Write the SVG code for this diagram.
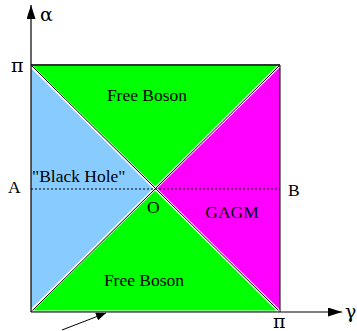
<svg xmlns="http://www.w3.org/2000/svg" width="357" height="331" viewBox="0 0 357 331">
<style>
text{font-family:"Liberation Serif","Times New Roman",serif;fill:#000}
.lbl{font-size:17.5px}
.gr{font-family:"DejaVu Serif","Liberation Serif",serif;font-size:19px}
.ax{stroke:#000;stroke-width:1.2;fill:none}
.diag{stroke:#000;stroke-width:1;fill:none}
.diagw{stroke:#fff;stroke-width:3;fill:none}
</style>
<defs>
<marker id="ah" viewBox="0 0 10 8" refX="10" refY="4" markerWidth="10" markerHeight="8" markerUnits="userSpaceOnUse" orient="auto">
<path d="M0,0 L10,4 L0,8 Z" fill="#000"/>
</marker>
<marker id="ahBig" viewBox="0 0 14 9" refX="14" refY="4.5" markerWidth="14" markerHeight="9" markerUnits="userSpaceOnUse" orient="auto">
<path d="M0,0 L14,4.5 L0,9 Z" fill="#000"/>
</marker>
</defs>
<rect width="357" height="331" fill="#fff"/>
<g id="region-top">
<polygon points="31,65 280,65 155.5,188.5" fill="#00ff00"/>
<text class="lbl" x="147" y="101" text-anchor="middle">Free Boson</text>
</g>
<g id="region-left">
<polygon points="31,65 155.5,188.5 31,312" fill="#88ccff"/>
<text class="lbl" x="32" y="182">"Black Hole"</text>
</g>
<g id="region-right">
<polygon points="280,65 280,312 155.5,188.5" fill="#ff00ff"/>
<text class="lbl" x="232" y="218" text-anchor="middle">GAGM</text>
</g>
<g id="region-bottom">
<polygon points="31,312 280,312 155.5,188.5" fill="#00ff00"/>
<text class="lbl" x="144" y="286" text-anchor="middle">Free Boson</text>
</g>
<g id="connectors">
<line class="diagw" x1="32" y1="67" x2="279" y2="311"/>
<line class="diagw" x1="32" y1="310" x2="279" y2="66"/>
<line class="diag" x1="31" y1="65" x2="280" y2="312"/>
<line class="diag" x1="31" y1="312" x2="280" y2="65"/>
<line x1="31" y1="189" x2="280" y2="189" stroke="#000" stroke-width="1" stroke-dasharray="2,2"/>
<line x1="31" y1="65" x2="280" y2="65" stroke="#333" stroke-width="2"/>
<line x1="280" y1="65" x2="280" y2="312" stroke="#000" stroke-width="1"/>
<line x1="31" y1="311" x2="280" y2="311" stroke="#fff" stroke-width="1"/>
<line class="ax" x1="31" y1="312" x2="31" y2="5" marker-end="url(#ahBig)"/>
<line class="ax" x1="31" y1="312" x2="342" y2="312" marker-end="url(#ahBig)"/>
<line x1="62" y1="330" x2="106" y2="313" stroke="#000" stroke-width="1" marker-end="url(#ah)"/>
</g>
<g id="axis-labels">
<text class="gr" x="40" y="21">α</text>
<text class="gr" x="11" y="72">π</text>
<text class="gr" x="273" y="328">π</text>
<text class="gr" x="345" y="318">γ</text>
<text class="lbl" x="8" y="193">A</text>
<text class="lbl" x="288" y="196">B</text>
<text class="lbl" x="147" y="213">O</text>
</g>
</svg>
